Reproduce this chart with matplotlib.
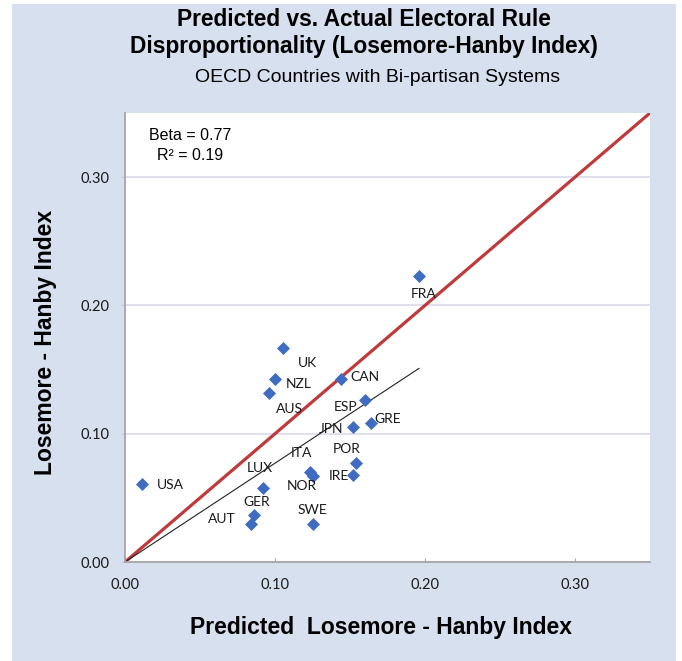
import numpy as np
import matplotlib
matplotlib.use("Agg")
import matplotlib.pyplot as plt
from matplotlib.patches import Rectangle

# predicted vs actual Losemore-Hanby index
countries = ["USA", "UK", "NZL", "AUS", "CAN", "ESP", "GRE", "JPN", "POR",
             "IRE", "ITA", "NOR", "LUX", "GER", "AUT", "SWE", "FRA"]
predicted = [0.011, 0.105, 0.100, 0.096, 0.144, 0.160, 0.164, 0.152, 0.154,
             0.152, 0.123, 0.125, 0.092, 0.086, 0.084, 0.125, 0.196]
actual = [0.061, 0.167, 0.143, 0.132, 0.143, 0.126, 0.108, 0.105, 0.077,
          0.068, 0.070, 0.067, 0.058, 0.037, 0.030, 0.030, 0.223]
beta = 0.77
r2 = 0.19
ticks = [0.0, 0.1, 0.2, 0.3]

# label offsets from each marker, in points (x right, y up)
label_offsets = {
    "USA": (21, -1), "UK": (18, -11), "NZL": (17, -4), "AUS": (15, -12),
    "CAN": (17, 1), "ESP": (-14, -5), "GRE": (12, 3), "JPN": (-16, -1),
    "POR": (-7, 10), "IRE": (-10, -1), "ITA": (-6, 14), "NOR": (-8, -7),
    "LUX": (-2, 14), "GER": (2, 9), "AUT": (-21, 3), "SWE": (0, 10),
    "FRA": (3, -13),
}

PANEL = "#d6e0ee"
BLUE = "#3f6cc0"
RED = "#c0393b"

fig = plt.figure(figsize=(6.82, 6.61), dpi=100)
fig.patch.set_facecolor("white")
fig.patches.append(Rectangle((12 / 682, 0), 664 / 682, 1 - 4 / 661,
                             transform=fig.transFigure, facecolor=PANEL,
                             edgecolor="none", zorder=-10))

ax = fig.add_axes([125 / 682, 1 - 562 / 661, 525 / 682, 449 / 661])
ax.set_facecolor("white")
ax.set_xlim(0, 0.35)
ax.set_ylim(0, 0.35)

ax.set_yticks(ticks)
ax.set_xticks(ticks)
ax.set_xticklabels([f"{t:.2f}" for t in ticks])
ax.set_yticklabels([f"{t:.2f}" for t in ticks])
ax.grid(axis="y", color="#d9d9ea", linewidth=1.2)
ax.set_axisbelow(True)

for side in ["top", "right"]:
    ax.spines[side].set_visible(False)
for side in ["left", "bottom"]:
    ax.spines[side].set_color("#a6a6a6")
    ax.spines[side].set_linewidth(1.3)

ax.tick_params(axis="y", direction="out", length=3, color="#c8c8d8",
               pad=8.5, labelsize=10.5, labelfontfamily="Lato",
               labelcolor="#1a1a1a")
ax.tick_params(axis="x", direction="in", length=3, color="#a6a6a6",
               pad=11.5, labelsize=10.5, labelfontfamily="Lato",
               labelcolor="#1a1a1a")

# 45 degree reference line and fitted line
ax.plot([0, 0.35], [0, 0.35], color=RED, linewidth=2.3, zorder=2)
xfit = np.array([0, max(predicted)])
ax.plot(xfit, beta * xfit, color="#222222", linewidth=0.8, zorder=2)

ax.scatter(predicted, actual, marker="D", s=44, color=BLUE, zorder=3,
           linewidths=0)

for name, px, py in zip(countries, predicted, actual):
    dx, dy = label_offsets[name]
    ax.annotate(name, (px, py), xytext=(dx, dy), textcoords="offset points",
                ha="center", va="center", fontsize=10, family="Lato",
                color="#1a1a1a", zorder=4)

ax.text(0.124, 0.949, f"Beta = {beta:.2f}", transform=ax.transAxes,
        ha="center", va="center", fontsize=11.5, family="Liberation Sans")
ax.text(0.124, 0.906, f"R² = {r2:.2f}", transform=ax.transAxes,
        ha="center", va="center", fontsize=11.5, family="Liberation Sans")

ax.set_xlabel("Predicted  Losemore - Hanby Index", fontsize=16.5,
              fontweight="bold", family="Liberation Sans", va="center")
ax.xaxis.set_label_coords(0.488, -0.145)
ax.set_ylabel("Losemore - Hanby Index", fontsize=16.5, fontweight="bold",
              family="Liberation Sans", va="center")
ax.yaxis.set_label_coords(-0.152, 0.488)

fig.text(364 / 682, 1 - 20 / 661, "Predicted vs. Actual Electoral Rule",
         ha="center", va="center", fontsize=16.4, fontweight="bold",
         family="Liberation Sans")
fig.text(364 / 682, 1 - 47 / 661, "Disproportionality (Losemore-Hanby Index)",
         ha="center", va="center", fontsize=16.4, fontweight="bold",
         family="Liberation Sans")
fig.text(378 / 682, 1 - 77 / 661, "OECD Countries with Bi-partisan Systems",
         ha="center", va="center", fontsize=14, family="Liberation Sans")

fig.savefig("out.png", dpi=100, facecolor=fig.get_facecolor())
